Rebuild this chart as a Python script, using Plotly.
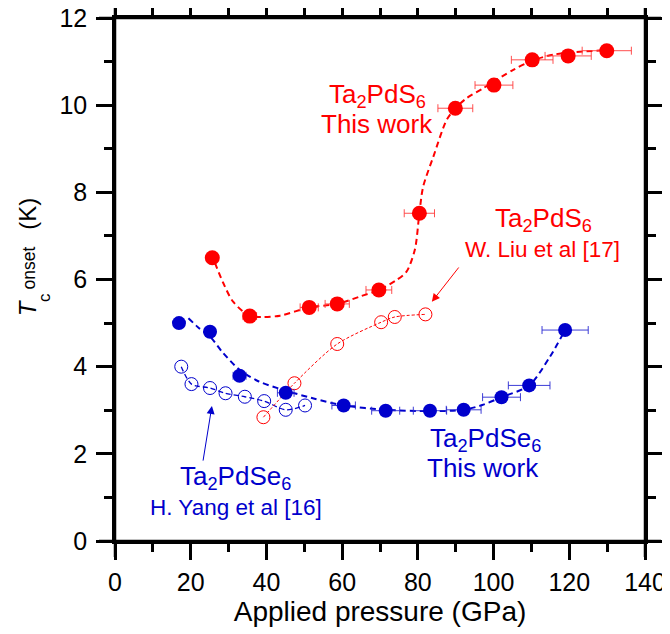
import plotly.graph_objects as go

# ---------------- data ----------------
# Ta2PdS6, this work (filled red)
s_p = [25.7, 35.6, 51.3, 58.7, 69.7, 80.4, 89.9, 100.1, 110.2, 119.7, 129.9]
s_tc = [6.50, 5.16, 5.36, 5.44, 5.76, 7.52, 9.93, 10.46, 11.04, 11.13, 11.25]
s_err = [1.3, 1.8, 2.4, 3.2, 3.4, 4.0, 4.6, 5.0, 5.5, 6.1, 6.5]

# Ta2PdSe6, this work (filled blue)
se_p = [16.9, 25.1, 32.9, 45.1, 60.4, 71.5, 83.2, 92.1, 102.1, 109.4, 118.9]
se_tc = [5.00, 4.80, 3.79, 3.40, 3.11, 2.99, 2.99, 3.01, 3.30, 3.57, 4.84]
se_err = [0.9, 1.3, 1.7, 2.2, 3.1, 3.7, 4.4, 4.6, 5.0, 5.5, 6.1]

# Ta2PdS6, W. Liu et al [17] (open red)
liu_p = [39.2, 47.4, 58.7, 70.3, 73.9, 82.0]
liu_tc = [2.84, 3.62, 4.52, 5.02, 5.14, 5.20]

# Ta2PdSe6, H. Yang et al [16] (open blue)
yang_p = [17.5, 20.2, 25.1, 29.2, 34.3, 39.4, 45.1, 50.2]
yang_tc = [4.00, 3.60, 3.51, 3.39, 3.31, 3.21, 3.01, 3.11]

# guide-to-the-eye curves
s_fit_p = [26.4, 28.6, 31.2, 35.6, 39.2, 43.6, 51.3, 58.7, 64.7, 69.7, 74.4, 77.0,
           79.2, 80.4, 81.4, 84.1, 87.6, 89.9, 92.9, 97.3, 105.2, 110.5, 115.8, 123.7, 128.9]
s_fit_tc = [6.38, 5.92, 5.49, 5.16, 5.14, 5.17, 5.36, 5.44, 5.61, 5.76, 5.99, 6.18,
            6.68, 7.52, 8.13, 8.82, 9.66, 9.93, 10.16, 10.39, 10.81, 11.03, 11.16, 11.23, 11.26]

se_fit_p = [19.4, 22.0, 25.1, 28.5, 32.9, 38.0, 45.1, 52.0, 60.4, 71.3, 83.2, 92.1,
            97.0, 102.1, 109.4, 114.9, 118.9]
se_fit_tc = [5.11, 4.90, 4.69, 4.32, 3.93, 3.66, 3.45, 3.28, 3.11, 3.01, 2.98, 3.01,
             3.12, 3.30, 3.57, 4.23, 4.84]

x_ticks = [0, 20, 40, 60, 80, 100, 120, 140]
y_ticks = [0, 2, 4, 6, 8, 10, 12]

# ---------------- style ----------------
RED = "#FF0000"
BLUE = "#0000CC"
FONT = "Liberation Sans, Arial, sans-serif"
W, H = 670, 634
OFF = 8  # default page body margin
ML, MR, MT, MB = 107, 33, 10, 101
PW, PH = W - ML - MR, H - MT - MB


def px(x):
    return (x - OFF - ML) / PW


def py(y):
    return (H - MB - (y - OFF)) / PH


fig = go.Figure()

fig.add_trace(go.Scatter(x=s_fit_p, y=s_fit_tc, mode="lines", line=dict(color=RED, width=2, dash="6px,4px", shape="spline", smoothing=0.8), hoverinfo="skip", showlegend=False))
fig.add_trace(go.Scatter(x=se_fit_p, y=se_fit_tc, mode="lines", line=dict(color=BLUE, width=2, dash="6px,4px", shape="spline", smoothing=0.8), hoverinfo="skip", showlegend=False))

fig.add_trace(go.Scatter(x=yang_p, y=yang_tc, mode="lines+markers",
                         line=dict(color=BLUE, width=1.3, dash="5px,3px", shape="spline", smoothing=0.8),
                         marker=dict(symbol="circle-open", size=13, color=BLUE, line=dict(width=1)),
                         showlegend=False))
fig.add_trace(go.Scatter(x=liu_p, y=liu_tc, mode="lines+markers",
                         line=dict(color=RED, width=1, dash="3px,2px", shape="spline", smoothing=0.8),
                         marker=dict(symbol="circle-open", size=13, color=RED, line=dict(width=1)),
                         showlegend=False))

fig.add_trace(go.Scatter(x=s_p, y=s_tc, mode="markers",
                         marker=dict(symbol="circle", size=15, color=RED),
                         error_x=dict(type="data", array=s_err, color="rgba(255,60,60,0.9)", thickness=1, width=4),
                         showlegend=False))
fig.add_trace(go.Scatter(x=se_p, y=se_tc, mode="markers",
                         marker=dict(symbol="circle", size=14, color=BLUE),
                         error_x=dict(type="data", array=se_err, color="rgba(40,40,210,0.9)", thickness=1, width=4),
                         showlegend=False))

axis_common = dict(showline=True, linewidth=2.5, linecolor="black", mirror="ticks",
                   ticks="outside", ticklen=16, tickwidth=2.5, tickcolor="black",
                   showgrid=False, zeroline=False, automargin=False, ticklabeloverflow="allow",
                   tickfont=dict(family=FONT, size=25, color="black"))

fig.update_xaxes(range=[0, 140], tickvals=x_ticks, ticktext=[str(v) for v in x_ticks],
                 minor=dict(tickvals=list(range(10, 140, 20)), ticklen=8, tickwidth=2.5, tickcolor="black", ticks="outside"),
                 title=dict(text="Applied pressure (GPa)", font=dict(family=FONT, size=28, color="black"), standoff=2),
                 ticklabelstandoff=1, **axis_common)
fig.update_yaxes(range=[0, 12], tickvals=y_ticks, ticktext=[str(v) for v in y_ticks],
                 minor=dict(tickvals=list(range(1, 12, 2)), ticklen=8, tickwidth=2.5, tickcolor="black", ticks="outside"),
                 ticklabelstandoff=4, **axis_common)

# overshooting frame lines
ox, oy = 16 / PW, 16 / PH
for sh in [dict(x0=0, x1=0, y0=-oy, y1=1 + oy), dict(x0=1, x1=1, y0=-oy, y1=1 + oy),
           dict(x0=-ox, x1=1 + ox, y0=0, y1=0), dict(x0=-ox, x1=1 + ox, y0=1, y1=1)]:
    fig.add_shape(type="line", xref="paper", yref="paper", line=dict(color="black", width=2.5), **sh)

annotations = []


def label(text, x, y, size, color, angle=0):
    annotations.append(dict(text=text, x=px(x), y=py(y), xref="paper", yref="paper",
                            xanchor="center", yanchor="middle", showarrow=False, textangle=angle,
                            font=dict(family=FONT, size=size, color=color)))


# y-axis title built from pieces (stacked sub/superscript)
label("<i>T</i>", 27.7, 307.5, 24, "black", -90)
label("c", 44.4, 297.5, 17, "black", -90)
label("onset", 29.2, 268.3, 17.5, "black", -90)
label("(K)", 26.8, 214, 24, "black", -90)

# series labels
label("Ta<sub>2</sub>PdS<sub>6</sub>", 377, 95, 26, RED)
label("This work", 377, 124, 26, RED)
label("Ta<sub>2</sub>PdS<sub>6</sub>", 543, 219, 26, RED)
label("W. Liu et al [17]", 542, 250, 22.5, RED)
label("Ta<sub>2</sub>PdSe<sub>6</sub>", 485, 439, 26, BLUE)
label("This work", 483, 468, 26, BLUE)
label("Ta<sub>2</sub>PdSe<sub>6</sub>", 235, 477, 26, BLUE)
label("H. Yang et al [16]", 236, 507, 22.5, BLUE)

# arrows
annotations.append(dict(x=83.7, y=5.49, ax=91.1, ay=6.31, xref="x", yref="y", axref="x", ayref="y",
                        text="", showarrow=True, arrowhead=2, arrowsize=1.6, arrowwidth=1, arrowcolor=RED))
annotations.append(dict(x=25.6, y=3.10, ax=23.2, ay=1.81, xref="x", yref="y", axref="x", ayref="y",
                        text="", showarrow=True, arrowhead=2, arrowsize=1.6, arrowwidth=1, arrowcolor=BLUE))

fig.update_layout(width=W, height=H, margin=dict(l=ML, r=MR, t=MT, b=MB, autoexpand=False),
                  paper_bgcolor="white", plot_bgcolor="white",
                  font=dict(family=FONT, color="black"), annotations=annotations,
                  showlegend=False)

fig.write_html("out.html")
